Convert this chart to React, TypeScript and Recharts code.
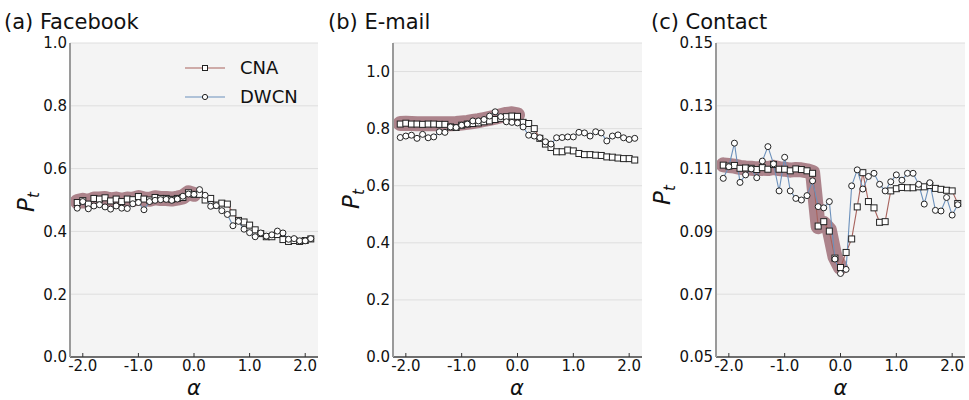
import React from 'react';
import { LineChart, Line, XAxis, YAxis, CartesianGrid, Legend } from 'recharts';

const FONT = "'DejaVu Sans', 'Liberation Sans', sans-serif";

const alpha = [
  -2.1, -2.0, -1.9, -1.8, -1.7, -1.6, -1.5, -1.4, -1.3, -1.2, -1.1,
  -1.0, -0.9, -0.8, -0.7, -0.6, -0.5, -0.4, -0.3, -0.2, -0.1, 0.0,
  0.1, 0.2, 0.3, 0.4, 0.5, 0.6, 0.7, 0.8, 0.9, 1.0, 1.1, 1.2, 1.3,
  1.4, 1.5, 1.6, 1.7, 1.8, 1.9, 2.0, 2.1,
];

// (a) Facebook
const cnaA = [
  0.492, 0.498, 0.487, 0.505, 0.503, 0.507, 0.497, 0.503, 0.495, 0.503,
  0.501, 0.511, 0.503, 0.500, 0.508, 0.505, 0.505, 0.502, 0.505, 0.508,
  0.523, 0.518, 0.518, 0.500, 0.505, 0.484, 0.490, 0.487, 0.459, 0.435,
  0.430, 0.420, 0.405, 0.393, 0.383, 0.383, 0.390, 0.374, 0.368, 0.371,
  0.368, 0.371, 0.376,
];
const dwcnA = [
  0.474, 0.495, 0.472, 0.481, 0.485, 0.478, 0.471, 0.481, 0.474, 0.473,
  0.488, 0.492, 0.469, 0.495, 0.499, 0.501, 0.502, 0.499, 0.503, 0.512,
  0.519, 0.518, 0.533, 0.515, 0.480, 0.482, 0.466, 0.454, 0.418, 0.432,
  0.407, 0.396, 0.383, 0.395, 0.385, 0.389, 0.401, 0.395, 0.375, 0.377,
  0.370, 0.370, 0.377,
];
const bandA = [
  0.495, 0.499, 0.495, 0.503, 0.503, 0.505, 0.500, 0.503, 0.499, 0.503,
  0.502, 0.508, 0.503, 0.502, 0.507, 0.505, 0.505, 0.503, 0.506, 0.510,
  0.523, 0.518,
];

// (b) E-mail
const cnaB = [
  0.816, 0.819, 0.816, 0.816, 0.815, 0.816, 0.816, 0.815, 0.815, 0.806,
  0.804, 0.812, 0.816, 0.818, 0.820, 0.824, 0.827, 0.832, 0.836, 0.842,
  0.844, 0.843, 0.822, 0.818, 0.800, 0.766, 0.746, 0.734, 0.719, 0.719,
  0.725, 0.722, 0.713, 0.709, 0.709, 0.707, 0.706, 0.701, 0.700, 0.697,
  0.695, 0.695, 0.690,
];
const dwcnB = [
  0.769, 0.774, 0.777, 0.766, 0.780, 0.768, 0.771, 0.789, 0.787, 0.806,
  0.804, 0.812, 0.816, 0.827, 0.827, 0.832, 0.844, 0.859, 0.842, 0.824,
  0.822, 0.820, 0.806, 0.777, 0.774, 0.768, 0.754, 0.746, 0.768, 0.769,
  0.771, 0.771, 0.787, 0.785, 0.774, 0.789, 0.785, 0.757, 0.774, 0.778,
  0.768, 0.762, 0.766,
];
const bandB = [
  0.818, 0.819, 0.818, 0.817, 0.817, 0.817, 0.817, 0.817, 0.817, 0.817,
  0.818, 0.820, 0.822, 0.825, 0.828, 0.832, 0.836, 0.840, 0.845, 0.850,
  0.852, 0.848,
];

// (c) Contact
const cnaC = [
  0.1111, 0.1108, 0.1110, 0.1101, 0.1102, 0.1101, 0.1097, 0.1103, 0.1098, 0.1113,
  0.1098, 0.1098, 0.1093, 0.1099, 0.1097, 0.1093, 0.1085, 0.0917, 0.0931, 0.0901,
  0.0815, 0.0785, 0.0833, 0.0876, 0.0978, 0.1087, 0.0995, 0.0975, 0.0929, 0.0931,
  0.1029, 0.1036, 0.1040, 0.1039, 0.1039, 0.1042, 0.1042, 0.1046, 0.1037, 0.1034,
  0.1031, 0.1029, 0.0989,
];
const dwcnC = [
  0.1069, 0.1106, 0.1181, 0.1056, 0.1080, 0.1099, 0.1071, 0.1124, 0.1170, 0.1115,
  0.1029, 0.1136, 0.1029, 0.1005, 0.1000, 0.1014, 0.1061, 0.0979, 0.0975, 0.0995,
  0.0812, 0.0766, 0.0779, 0.1045, 0.1096, 0.1035, 0.1075, 0.1085, 0.1050, 0.1029,
  0.1058, 0.1080, 0.1063, 0.1085, 0.1085, 0.1050, 0.0987, 0.1055, 0.0967, 0.0965,
  0.1008, 0.0952, 0.0985,
];
const bandC = [
  0.1112, 0.1110, 0.1108, 0.1104, 0.1102, 0.1101, 0.1099, 0.1101, 0.1100, 0.1104,
  0.1100, 0.1098, 0.1095, 0.1097, 0.1096, 0.1093, 0.1088, 0.0915, 0.0925, 0.0905,
  0.0820, 0.0785,
];

const xTicks = [-2, -1, 0, 1, 2];
const yTicksA = [0, 0.2, 0.4, 0.6, 0.8, 1.0];
const yTicksB = [0, 0.2, 0.4, 0.6, 0.8, 1.0];
const yTicksC = [0.05, 0.07, 0.09, 0.11, 0.13, 0.15];

const titles = ['(a) Facebook', '(b) E-mail', '(c) Contact'];
const seriesNames = ['CNA', 'DWCN'];

const CNA_COLOR = '#a8635d';
const DWCN_COLOR = '#6b90bb';
const BAND_COLOR = '#9a6670';
const MARKER_EDGE = '#222';

const Y_AXIS_W = 40;
const X_AXIS_H = 30;

const XTick = (props: any) => {
  const { x, y, payload } = props;
  return (
    <g>
      <line x1={x} x2={x} y1={y} y2={y - 4} stroke="#333" strokeWidth={1} />
      <text x={x} y={y + 14} textAnchor="middle" fontSize={15} fill="#111" fontFamily={FONT}>
        {Number(payload.value).toFixed(1)}
      </text>
    </g>
  );
};

const YTick = (props: any) => {
  const { x, y, payload, digits } = props;
  return (
    <text x={x - 3} y={y} dy="0.36em" textAnchor="end" fontSize={15} fill="#111" fontFamily={FONT}>
      {Number(payload.value).toFixed(digits)}
    </text>
  );
};

const SquareDot = (props: any) => {
  const { cx, cy, index } = props;
  if (cx == null || cy == null || props.value == null) return <g key={`s${index}`} />;
  return (
    <rect key={`s${index}`} x={cx - 3} y={cy - 3} width={6} height={6}
      fill="#fff" stroke={MARKER_EDGE} strokeWidth={1} />
  );
};

const LegendContent = () => {
  const rows = [
    { name: seriesNames[0], color: CNA_COLOR, square: true },
    { name: seriesNames[1], color: DWCN_COLOR, square: false },
  ];
  return (
    <div style={{ fontFamily: FONT }}>
      {rows.map((r) => (
        <div key={r.name} style={{ display: 'flex', alignItems: 'center', height: 29 }}>
          <svg width={42} height={12} style={{ display: 'block' }}>
            <line x1={1} x2={41} y1={6} y2={6} stroke={r.color} strokeWidth={1.2} />
            {r.square ? (
              <rect x={18.5} y={3.5} width={5} height={5} fill="#fff" stroke={MARKER_EDGE} strokeWidth={1} />
            ) : (
              <circle cx={21} cy={6} r={2.6} fill="#fff" stroke={MARKER_EDGE} strokeWidth={1} />
            )}
          </svg>
          <span style={{ marginLeft: 14, fontSize: 18, color: '#111', lineHeight: '18px' }}>{r.name}</span>
        </div>
      ))}
    </div>
  );
};

type PanelProps = {
  left: number;
  width: number;
  plotLeft: number;
  plotRight: number;
  cna: number[];
  dwcn: number[];
  band: number[];
  yDomain: [number, number];
  yTicks: number[];
  yDigits: number;
  legend?: boolean;
};

function Panel(p: PanelProps) {
  const data = alpha.map((a, i) => ({
    alpha: a,
    cna: p.cna[i],
    dwcn: p.dwcn[i],
    band: i < p.band.length ? p.band[i] : null,
  }));
  return (
    <div style={{ position: 'absolute', left: p.left, top: 0, width: p.width, height: 400 }}>
      <LineChart
        width={p.width}
        height={400}
        data={data}
        margin={{
          top: 43,
          bottom: 43 - X_AXIS_H,
          left: p.plotLeft - p.left - Y_AXIS_W,
          right: p.left + p.width - p.plotRight,
        }}
      >
        <CartesianGrid vertical={false} stroke="#dedede" fill="#f4f4f4" />
        <XAxis
          type="number"
          dataKey="alpha"
          domain={[-2.23, 2.23]}
          ticks={xTicks}
          interval={0}
          height={X_AXIS_H}
          tickSize={0}
          tickMargin={0}
          tickLine={false}
          axisLine={{ stroke: '#444', strokeWidth: 1.5 }}
          tick={<XTick />}
          allowDataOverflow
        />
        <YAxis
          type="number"
          domain={p.yDomain}
          ticks={p.yTicks}
          interval={0}
          width={Y_AXIS_W}
          tickSize={0}
          tickMargin={0}
          tickLine={false}
          axisLine={{ stroke: '#9a9a9a', strokeWidth: 2 }}
          tick={<YTick digits={p.yDigits} />}
          allowDataOverflow
        />
        <Line
          dataKey="band"
          stroke={BAND_COLOR}
          strokeOpacity={0.8}
          strokeWidth={15}
          strokeLinecap="round"
          strokeLinejoin="round"
          dot={false}
          activeDot={false}
          legendType="none"
          isAnimationActive={false}
        />
        <Line
          dataKey="cna"
          name={seriesNames[0]}
          stroke={CNA_COLOR}
          strokeWidth={1.1}
          dot={SquareDot}
          activeDot={false}
          isAnimationActive={false}
        />
        <Line
          dataKey="dwcn"
          name={seriesNames[1]}
          stroke={DWCN_COLOR}
          strokeWidth={1.1}
          dot={{ r: 3, fill: '#fff', stroke: MARKER_EDGE, strokeWidth: 1 }}
          activeDot={false}
          isAnimationActive={false}
        />
        {p.legend && (
          <Legend
            layout="vertical"
            align="center"
            verticalAlign="middle"
            content={<LegendContent />}
            wrapperStyle={{ left: 184, top: 53, width: 130, height: 58 }}
          />
        )}
      </LineChart>
    </div>
  );
}

const yLabels = [
  { x: 34, y: 202 },
  { x: 359, y: 199 },
  { x: 670, y: 195 },
];
const titlePos = [4, 328, 651];
const alphaPos = [194, 517, 840.5];

export default function App() {
  return (
    <div style={{ position: 'absolute', left: 0, top: 0, width: 969, height: 400, background: '#fff', overflow: 'hidden' }}>
      <Panel left={0} width={323} plotLeft={70} plotRight={318} cna={cnaA} dwcn={dwcnA} band={bandA}
        yDomain={[0, 1]} yTicks={yTicksA} yDigits={1} legend />
      <Panel left={323} width={323} plotLeft={393} plotRight={642} cna={cnaB} dwcn={dwcnB} band={bandB}
        yDomain={[0, 1.1]} yTicks={yTicksB} yDigits={1} />
      <Panel left={646} width={323} plotLeft={716} plotRight={965} cna={cnaC} dwcn={dwcnC} band={bandC}
        yDomain={[0.05, 0.15]} yTicks={yTicksC} yDigits={2} />
      <svg width={969} height={400} style={{ position: 'absolute', left: 0, top: 0, pointerEvents: 'none' }}>
        {titles.map((t, i) => (
          <text key={t} x={titlePos[i]} y={28.5} fontSize={21} fontFamily={FONT} fill="#111">{t}</text>
        ))}
        {alphaPos.map((x, i) => (
          <text key={`a${i}`} x={x} y={395} textAnchor="middle" fontSize={21} fontStyle="italic" fontFamily={FONT} fill="#111">α</text>
        ))}
        {yLabels.map((l, i) => (
          <text key={`p${i}`} transform={`translate(${l.x},${l.y}) rotate(-90)`} textAnchor="middle"
            fontSize={23} fontStyle="italic" fontFamily={FONT} fill="#111">
            P<tspan fontSize={15} dy={5}>t</tspan>
          </text>
        ))}
      </svg>
    </div>
  );
}
